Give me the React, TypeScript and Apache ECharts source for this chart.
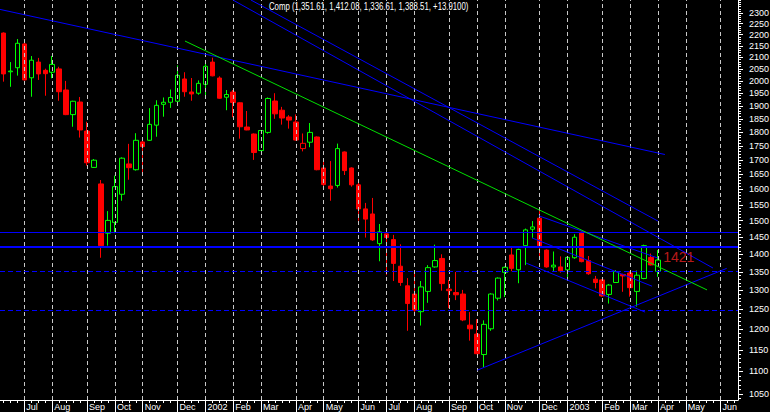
import React, { useEffect, useRef } from "react";
import * as echarts from "echarts";

// ---- categories: weekly bars (week ending Friday) ----
const FIRST_WEEK_UTC = Date.UTC(2001, 5, 15); // Fri 15 Jun 2001
const WEEK_COUNT = 106; // axis runs to Jun 2003
const MONTH_NAMES = ["Jan", "Feb", "Mar", "Apr", "May", "Jun", "Jul", "Aug", "Sep", "Oct", "Nov", "Dec"];

// ---- weekly OHLC (Nasdaq Composite) ----
const open = [
  2207, 2038, 2055, 2158, 2013, 2079, 2044, 2036, 2050, 1963,
  1866, 1915, 1804, 1674, 1618, 1462, 1495, 1584, 1686, 1666,
  1764, 1770, 1826, 1906, 1914, 1918, 2008, 1955, 1950, 1986,
  2079, 2012, 1934, 1955, 1912, 1819, 1793, 1733, 1799, 1919,
  1883, 1857, 1838, 1740, 1763, 1782, 1672, 1611, 1613, 1728,
  1672, 1615, 1537, 1521, 1431, 1460, 1443, 1366, 1312, 1290,
  1244, 1297, 1364, 1388, 1303, 1294, 1290, 1210, 1188, 1139,
  1201, 1279, 1349, 1398, 1356, 1425, 1474, 1508, 1412, 1364,
  1364, 1356, 1390, 1465, 1382, 1330, 1328, 1289, 1321, 1343,
  1347, 1297, 1332, 1391, 1351.61,
];
const high = [
  2210, 2079, 2180, 2180, 2105, 2097, 2051, 2105, 2059, 2000,
  1920, 1935, 1839, 1703, 1631, 1530, 1646, 1709, 1757, 1796,
  1772, 1891, 1922, 1933, 1965, 2065, 2036, 2012, 2002, 2074,
  2098, 2019, 1963, 1963, 1914, 1880, 1795, 1808, 1933, 1950,
  1896, 1864, 1867, 1795, 1834, 1784, 1699, 1696, 1758, 1730,
  1674, 1624, 1556, 1572, 1490, 1462, 1457, 1429, 1333, 1352,
  1325, 1369, 1428, 1400, 1328, 1350, 1301, 1243, 1225, 1222,
  1292, 1335, 1365, 1422, 1416, 1476, 1499, 1534, 1414, 1408,
  1394, 1393, 1459, 1467, 1395, 1339, 1330, 1317, 1355, 1345,
  1352, 1354, 1428, 1402, 1412.08,
];
const low = [
  1997, 1976, 2022, 2002, 1936, 2004, 1940, 2011, 1920, 1864,
  1820, 1780, 1680, 1672, 1390, 1425, 1462, 1563, 1632, 1663,
  1650, 1768, 1783, 1858, 1892, 1916, 1936, 1920, 1944, 1938,
  2019, 1928, 1883, 1856, 1776, 1807, 1700, 1731, 1794, 1850,
  1828, 1813, 1769, 1730, 1745, 1664, 1609, 1563, 1606, 1648,
  1609, 1500, 1449, 1439, 1380, 1341, 1325, 1312, 1196, 1239,
  1209, 1267, 1362, 1299, 1253, 1274, 1220, 1172, 1140, 1110,
  1196, 1273, 1282, 1352, 1319, 1369, 1447, 1393, 1362, 1351,
  1348, 1328, 1387, 1377, 1342, 1305, 1283, 1265, 1320, 1296,
  1283, 1257, 1330, 1368, 1336.61,
];
const close = [
  2029, 2041, 2161, 2004, 2087, 2029, 2030, 2069, 1956, 1866,
  1918, 1808, 1690, 1699, 1425, 1501, 1609, 1706, 1673, 1770,
  1747, 1829, 1902, 1914, 1933, 2023, 1956, 1947, 1990, 2061,
  2021, 1930, 1945, 1913, 1820, 1808, 1726, 1806, 1929, 1869,
  1853, 1845, 1771, 1759, 1799, 1666, 1616, 1602, 1740, 1663,
  1615, 1537, 1505, 1442, 1466, 1449, 1374, 1321, 1265, 1248,
  1309, 1362, 1382, 1318, 1299, 1288, 1223, 1201, 1141, 1212,
  1290, 1333, 1363, 1360, 1414, 1472, 1481, 1425, 1364, 1369,
  1353, 1391, 1450, 1379, 1345, 1321, 1285, 1314, 1351, 1339,
  1307, 1341, 1425, 1369.6, 1383.51,
];
// up bar that closed below the prior close: drawn hollow red
const hollowRedBars = [43];

// ---- price axis ----
const priceRange = [1037.3, 2362.3];
const majorTicks = [
  1050, 1100, 1150, 1200, 1250, 1300, 1350, 1400, 1450, 1500, 1550, 1600, 1650,
  1700, 1750, 1800, 1850, 1900, 1950, 2000, 2050, 2100, 2150, 2200, 2250, 2300,
];
const minorTickStep = 10;

// ---- drawn levels ----
const solidLevels = [1467, 1421];
const dashedLevels = [1354, 1255];
const labelledLevel = 1421;
const labelAnchor = [97.0, 1392]; // [week index, price] of the level's red label

// ---- trend lines: [weekIndex, price] end points ----
const trendLong = [[-0.5, 2317], [95.0, 1719]];
const trendSteep1 = [[35.55, 2362], [94.0, 1499]];
const trendSteep2 = [[32.97, 2362], [101.9, 1361]];
const trendGreen = [[26.07, 2171], [101.05, 1301]];
const trendRising = [[68.06, 1103], [103.88, 1360]];
const channel1 = [[76.92, 1515], [94.0, 1389]];
const channel2 = [[75.91, 1448], [93.15, 1311]];
const channel3 = [[75.05, 1375], [92.15, 1243]];

const BLUE = "#0000ff";
const GREEN_LINE = "#00e000";
const FONT = "Liberation Sans";

function buildOption() {
  const ln = Math.log;
  const dates = Array.from({ length: WEEK_COUNT }, (_, i) => new Date(FIRST_WEEK_UTC + i * 7 * 86400000));
  const categories = dates.map((d) => d.toISOString().slice(0, 10));
  const isMonthStart = (i: number) => dates[i].getUTCDate() <= 7;
  const monthLabel = (i: number) => {
    const d = dates[i];
    return d.getUTCMonth() === 0 ? String(d.getUTCFullYear()) : MONTH_NAMES[d.getUTCMonth()];
  };
  const monthIdx = dates.map((_, i) => i).filter(isMonthStart);

  const minorTicks: number[] = [];
  for (let v = 1040; v <= 2360; v += minorTickStep) minorTicks.push(v);

  const candleData = open.map((o, i) => {
    const value = [ln(o), ln(close[i]), ln(low[i]), ln(high[i])];
    if (hollowRedBars.includes(i)) {
      return { value, itemStyle: { color: "#000", borderColor: "#ff0000" } };
    }
    return value;
  });

  const yMin = ln(priceRange[0]);
  const yMax = ln(priceRange[1]);

  const trend = (pts: number[][], color: string) => ({
    type: "line",
    xAxisIndex: 2,
    yAxisIndex: 0,
    data: pts.map(([x, p]) => [x, ln(p)]),
    symbol: "none",
    lineStyle: { color, width: 1 },
    silent: true,
    z: 5,
  });

  const last = open.length - 1;
  const fmt = (v: number) => v.toLocaleString("en-US", { minimumFractionDigits: 2, maximumFractionDigits: 2 });
  const header = `Comp (${fmt(open[last])}, ${fmt(high[last])}, ${fmt(low[last])}, ${fmt(close[last])}, +${(close[last] - close[last - 1]).toFixed(4)})`;

  return {
    animation: false,
    backgroundColor: "#000",
    grid: { left: 0, right: 32, top: 0, bottom: 12, containLabel: false, outerBoundsMode: "none" },
    xAxis: [
      {
        type: "category",
        data: categories,
        position: "bottom",
        boundaryGap: true,
        axisLine: { show: true, onZero: false, lineStyle: { color: "#fff", width: 1 } },
        axisTick: {
          show: true,
          alignWithLabel: true,
          interval: (i: number) => isMonthStart(i),
          length: 12,
          lineStyle: { color: "#fff", width: 1 },
        },
        axisLabel: {
          show: true,
          interval: (i: number) => isMonthStart(i),
          formatter: (_v: string, i: number) => monthLabel(i),
          color: "#fff",
          fontSize: 9,
          fontFamily: FONT,
          align: "left",
          margin: 2,
          padding: [0, 0, 0, 2],
        },
        splitLine: { show: false },
      },
      {
        type: "category",
        data: categories,
        position: "bottom",
        boundaryGap: true,
        axisLine: { show: false, onZero: false },
        axisTick: { show: true, alignWithLabel: true, interval: 0, length: 3, lineStyle: { color: "#fff" } },
        axisLabel: { show: false },
        splitLine: { show: false },
      },
      {
        type: "value",
        position: "top",
        show: false,
        min: -0.5,
        max: WEEK_COUNT - 0.5,
        splitLine: { show: false },
      },
    ],
    yAxis: [
      {
        type: "value",
        position: "right",
        min: yMin,
        max: yMax,
        scale: true,
        axisLine: { show: true, onZero: false, lineStyle: { color: "#fff", width: 1 } },
        axisTick: { show: true, length: 5, customValues: majorTicks.map(ln), lineStyle: { color: "#fff" } },
        axisLabel: {
          show: true,
          customValues: majorTicks.map(ln),
          formatter: (v: number) => String(Math.round(Math.exp(v))),
          color: "#fff",
          fontSize: 9,
          fontFamily: FONT,
          margin: 11,
        },
        splitLine: { show: false },
      },
      {
        type: "value",
        position: "right",
        min: yMin,
        max: yMax,
        scale: true,
        axisLine: { show: false, onZero: false },
        axisTick: { show: true, length: 3, customValues: minorTicks.map(ln), lineStyle: { color: "#fff" } },
        axisLabel: { show: false },
        splitLine: { show: false },
      },
    ],
    graphic: [
      {
        type: "text",
        x: 269,
        y: 2,
        scaleX: 0.78,
        silent: true,
        style: {
          text: header,
          fill: "#fff",
          fontSize: 10,
          fontFamily: FONT,
          verticalAlign: "top",
          textVerticalAlign: "top",
        },
      },
    ],
    series: [
      {
        name: "monthGrid",
        type: "line",
        xAxisIndex: 2,
        yAxisIndex: 0,
        data: [[-0.5, yMin]],
        symbol: "none",
        lineStyle: { opacity: 0 },
        silent: true,
        z: 1,
        markLine: {
          silent: true,
          symbol: ["none", "none"],
          label: { show: false },
          lineStyle: { color: "#c8c8c8", type: [4, 3], width: 1 },
          data: monthIdx.map((i) => ({ xAxis: i })),
        },
      },
      {
        name: "Comp",
        type: "candlestick",
        xAxisIndex: 0,
        yAxisIndex: 0,
        data: candleData,
        barWidth: 5,
        z: 2,
        itemStyle: {
          color: "#000",
          color0: "#ff0000",
          borderColor: "#00ff00",
          borderColor0: "#ff0000",
          borderWidth: 1,
        },
      },
      {
        name: "levels",
        type: "line",
        xAxisIndex: 2,
        yAxisIndex: 0,
        data: [[-0.5, yMin]],
        symbol: "none",
        lineStyle: { opacity: 0 },
        silent: true,
        z: 4,
        markLine: {
          silent: true,
          symbol: ["none", "none"],
          label: { show: false },
          data: [
            ...solidLevels.map((p) => ({
              yAxis: ln(p),
              lineStyle: { color: BLUE, width: p === labelledLevel ? 2 : 1, type: "solid" },
            })),
            ...dashedLevels.map((p) => ({
              yAxis: ln(p),
              lineStyle: { color: BLUE, width: 1, type: [5, 3] },
            })),
          ],
        },
      },
      trend(trendLong, BLUE),
      trend(trendSteep1, BLUE),
      trend(trendSteep2, BLUE),
      trend(trendRising, BLUE),
      trend(channel1, BLUE),
      trend(channel2, BLUE),
      trend(channel3, BLUE),
      trend(trendGreen, GREEN_LINE),
      {
        name: "levelLabel",
        type: "scatter",
        xAxisIndex: 2,
        yAxisIndex: 0,
        data: [[labelAnchor[0], ln(labelAnchor[1])]],
        symbolSize: 1,
        itemStyle: { color: "rgba(0,0,0,0)" },
        silent: true,
        z: 6,
        label: {
          show: true,
          position: "inside",
          formatter: () => String(labelledLevel),
          color: "#e82020",
          fontSize: 14,
          fontFamily: FONT,
        },
      },
    ],
  };
}

export default function App() {
  const ref = useRef<HTMLDivElement>(null);
  useEffect(() => {
    document.body.style.margin = "0";
    document.body.style.background = "#000";
    const chart = echarts.init(ref.current!, null, { renderer: "svg" });
    chart.setOption(buildOption() as any);
    return () => chart.dispose();
  }, []);
  return (
    <div
      ref={ref}
      style={{ position: "absolute", left: 0, top: 0, width: 770, height: 412, background: "#000" }}
    />
  );
}
